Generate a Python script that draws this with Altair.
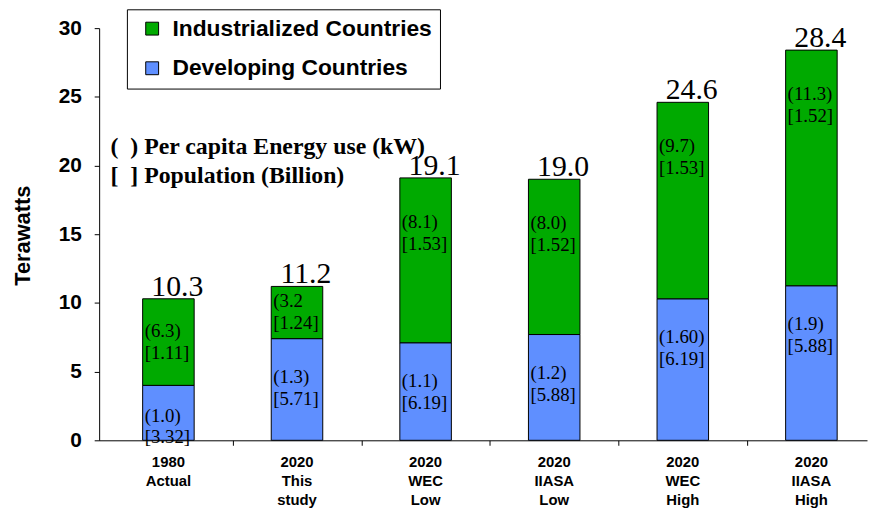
import altair as alt
import pandas as pd

# ---- data ----
categories = ["1980\nActual", "2020\nThis\nstudy", "2020\nWEC\nLow",
              "2020\nIIASA\nLow", "2020\nWEC\nHigh", "2020\nIIASA\nHigh"]
developing = [4.0, 7.4, 7.1, 7.7, 10.3, 11.25]
industrialized = [6.3, 3.8, 12.0, 11.3, 14.3, 17.15]
totals = ["10.3", "11.2", "19.1", "19.0", "24.6", "28.4"]
ind_percap = ["(6.3)", "(3.2", "(8.1)", "(8.0)", "(9.7)", "(11.3)"]
ind_pop = ["[1.11]", "[1.24]", "[1.53]", "[1.52]", "[1.53]", "[1.52]"]
dev_percap = ["(1.0)", "(1.3)", "(1.1)", "(1.2)", "(1.60)", "(1.9)"]
dev_pop = ["[3.32]", "[5.71]", "[6.19]", "[5.88]", "[6.19]", "[5.88]"]
series = ["Industrialized Countries", "Developing Countries"]
colors = ["#00AA00", "#5F8FFF"]
y_ticks = [0, 5, 10, 15, 20, 25, 30]
NB = "\u00a0"
notes = "(" + NB * 2 + ") Per capita Energy use (kW)\n[" + NB * 2 + "] Population (Billion)"

SANS = "Liberation Sans"
SERIF = "Liberation Serif"

# ---- tables ----
bars = []
for i in range(len(categories)):
    bars.append({"idx": i, "series": series[1], "value": developing[i], "ord": 0})
    bars.append({"idx": i, "series": series[0], "value": industrialized[i], "ord": 1})
bars = pd.DataFrame(bars)

tops = [d + g for d, g in zip(developing, industrialized)]
tot_df = pd.DataFrame({"idx": range(len(categories)), "top": tops, "label": totals})

inner = []
for i in range(len(categories)):
    seg = industrialized[i]
    inner.append({"idx": i, "y": tops[i] - min(4.0, seg / 2) + 0.8,
                  "text": ind_percap[i] + "\n" + ind_pop[i]})
    inner.append({"idx": i, "y": max(developing[i] - 2.8, 1.8),
                  "text": dev_percap[i] + "\n" + dev_pop[i]})
inner = pd.DataFrame(inner)

xlab = pd.DataFrame({"idx": range(len(categories)), "label": categories})
note_df = pd.DataFrame({"x": [-0.45], "y": [21.35], "text": [notes]})

xscale = alt.Scale(domain=[-0.5, 5.394], nice=False, zero=False)
yscale = alt.Scale(domain=[0, 30], nice=False)

base_x = alt.X("idx:Q", scale=xscale,
               axis=alt.Axis(values=[0.5, 1.5, 2.5, 3.5, 4.5], labels=False,
                             tickSize=5, tickColor="black", domainColor="black",
                             grid=False, title=None))

bar_layer = alt.Chart(bars).mark_bar(size=52, stroke="black", strokeWidth=1).encode(
    x=base_x,
    y=alt.Y("value:Q", stack="zero", scale=yscale,
            axis=alt.Axis(values=y_ticks, tickSize=5, tickColor="black",
                          domainColor="black", grid=False,
                          labelFont=SANS, labelFontSize=21, labelFontWeight="bold",
                          labelColor="black", labelPadding=13,
                          title="Terawatts", titleFont=SANS, titleFontSize=22,
                          titleFontWeight="bold", titleColor="black",
                          titleX=-77, titleY=209, titleBaseline="middle")),
    color=alt.Color("series:N", scale=alt.Scale(domain=series, range=colors),
                    legend=alt.Legend(orient="none", legendX=28, legendY=-19,
                                      direction="vertical", title=None,
                                      symbolType="square", symbolSize=169,
                                      symbolStrokeColor="black", symbolStrokeWidth=1,
                                      symbolOffset=6,
                                      labelFont=SANS, labelFontSize=23,
                                      labelFontWeight="bold", labelColor="black",
                                      labelOffset=9, labelLimit=400,
                                      padding=8, rowPadding=16,
                                      strokeColor="black", fillColor="white")),
    order=alt.Order("ord:Q"),
)

tot_layer = alt.Chart(tot_df).mark_text(font=SERIF, fontSize=30, baseline="alphabetic",
                                        dy=-3, dx=9, color="black").encode(
    x=alt.X("idx:Q", scale=xscale), y=alt.Y("top:Q", scale=yscale), text="label:N")

inner_layer = alt.Chart(inner).mark_text(font=SERIF, fontSize=19, align="left",
                                         baseline="middle", lineBreak="\n",
                                         lineHeight=22, dx=-24, color="black").encode(
    x=alt.X("idx:Q", scale=xscale), y=alt.Y("y:Q", scale=yscale), text="text:N")

xlab_layer = alt.Chart(xlab).mark_text(font=SANS, fontSize=15, fontWeight="bold",
                                       baseline="top", lineBreak="\n", lineHeight=19,
                                       dy=15, color="black").encode(
    x=alt.X("idx:Q", scale=xscale), y=alt.datum(0), text="label:N")

note_layer = alt.Chart(note_df).mark_text(font=SERIF, fontSize=24, fontWeight="bold",
                                          align="left", baseline="middle",
                                          lineBreak="\n", lineHeight=29,
                                          color="black").encode(
    x=alt.X("x:Q", scale=xscale), y=alt.Y("y:Q", scale=yscale), text="text:N")

chart = alt.layer(bar_layer, tot_layer, inner_layer, xlab_layer, note_layer).properties(
    width=775, height=416,
    autosize=alt.AutoSizeParams(type="none"),
    padding={"left": 92, "top": 18, "right": 2, "bottom": 66},
    background="white",
).configure_view(strokeWidth=0)

chart.save("out.html", embed_options={"renderer": "svg", "actions": False})
